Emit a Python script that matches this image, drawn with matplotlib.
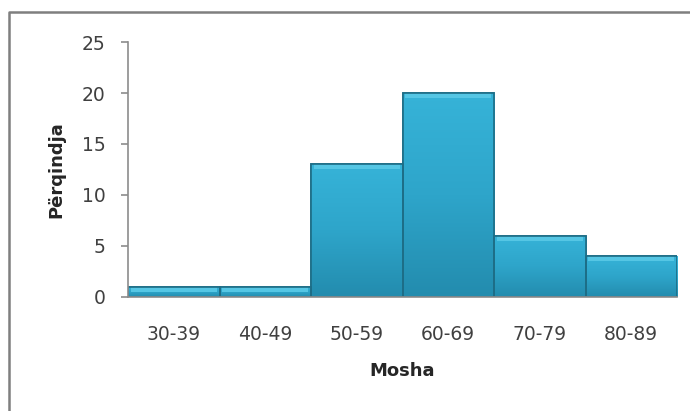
import matplotlib.pyplot as plt
import numpy as np
from matplotlib.patches import Rectangle
from matplotlib.colors import LinearSegmentedColormap

# Age groups and their percentages
age_groups = ['30-39', '40-49', '50-59', '60-69', '70-79', '80-89']
percent = [1, 1, 13, 20, 6, 4]

plt.rcParams['font.family'] = ['DejaVu Sans']

fig = plt.figure(figsize=(6.9, 4.11), dpi=100)
ax = fig.add_axes([0.1855, 0.2774, 0.7957, 0.6204])

# chart frame: only its top and left edges fall inside the image
fig.add_artist(plt.Line2D([9 / 690, 9 / 690, 1.0], [0.0, 1 - 12 / 411, 1 - 12 / 411],
                          transform=fig.transFigure, color='#7f7f7f', linewidth=1.8))

x = np.arange(len(age_groups))
bars = ax.bar(x, percent, width=1.0, color='#2ea6cb', edgecolor='#1d6d86',
              linewidth=1.2, zorder=2)

# vertical shading inside each bar plus a light bevel on top
grad = np.linspace(0, 1, 100).reshape(-1, 1)
cmap = LinearSegmentedColormap.from_list('bar', ['#238cae', '#2ea5ca', '#36b3d8'])
bevel = 0.5
for b, v in zip(bars, percent):
    x0 = b.get_x()
    im = ax.imshow(grad, extent=(x0, x0 + b.get_width(), 0, v), origin='lower',
                   cmap=cmap, aspect='auto', zorder=2.1)
    im.set_clip_path(b)
    ax.add_patch(Rectangle((x0 + 0.03, v - bevel), b.get_width() - 0.06, bevel,
                           facecolor='#55c6e4', edgecolor='none', zorder=2.2))
    ax.add_patch(Rectangle((x0, 0), b.get_width(), v, fill=False,
                           edgecolor='#1d6d86', linewidth=1.2, zorder=2.3))

ax.set_xlim(-0.5, len(age_groups) - 0.5)
ax.set_ylim(0, 25)
ax.set_yticks(range(0, 26, 5))
ax.set_xticks(x)
ax.set_xticklabels(age_groups)

for s in ['top', 'right']:
    ax.spines[s].set_visible(False)
for s in ['left', 'bottom']:
    ax.spines[s].set_color('#8c8c8c')
    ax.spines[s].set_linewidth(1.2)

ax.tick_params(axis='y', length=5, width=1.2, color='#8c8c8c',
               labelsize=13.5, labelcolor='#404040', pad=11)
ax.tick_params(axis='x', length=0, labelsize=13.5, labelcolor='#404040', pad=20)

ax.set_xlabel('Mosha', fontsize=13, fontweight='bold', color='#262626', labelpad=13)
ax.set_ylabel('Përqindja', fontsize=13, fontweight='bold', color='#262626', labelpad=12)

fig.savefig('out.png', dpi=100)
